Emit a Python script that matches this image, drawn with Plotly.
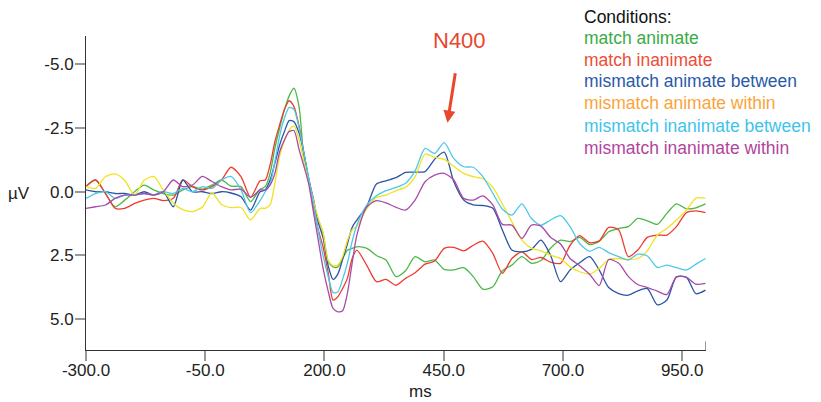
import plotly.graph_objects as go

# time points (ms)
time_ms = [-300, -280, -259, -239, -219, -198, -178, -158, -138, -117, -97, -77, -56, -36, -16, 4,
           25, 45, 65, 76, 86, 96, 106, 116, 126, 136, 147, 157, 167, 177, 187, 197, 208, 218,
           228, 238, 248, 258, 268, 289, 309, 329, 350, 370, 390, 411, 431, 451, 471, 492, 512,
           532, 553, 573, 593, 614, 634, 654, 674, 695, 715, 735, 756, 776, 796, 817, 837, 857,
           877, 898, 918, 938, 959, 979, 999]

match_animate = [-0.22, -0.46, 0.07, 0.59, 0.33, 0.0, -0.26, -0.07, 0.07, 0.13, -0.07, -0.2, -0.1, -0.26, -0.46, -0.22,
                 -0.2, 0.39, -0.1, -0.2, -0.72, -1.7, -2.49, -3.2, -3.76, -4.06, -3.3, -1.3, -0.5, 0.46, 1.1, 1.63, 2.75, 2.95,
                 2.95, 2.62, 2.3, 2.22, 2.16, 2.22, 2.5, 2.68, 3.33, 3.1, 2.55, 2.75, 2.68, 3.05, 3.07, 2.98, 3.33,
                 3.82, 3.73, 3.1, 2.88, 2.55, 2.81, 2.7, 2.22, 1.9, 1.96, 1.79, 2.07, 1.95, 1.57, 1.44, 1.37, 1.05,
                 1.14, 1.28, 0.85, 0.48, 0.67, 0.63, 0.48]

match_inanimate = [-0.2, -0.46, 0.07, 0.65, 0.65, 0.46, 0.33, 0.26, 0.35, 0.26, -0.46, -0.2, -0.07, -0.2, -0.46, -0.96,
                   -0.59, 0.22, -0.43, -0.46, -1.05, -1.96, -2.62, -3.23, -3.57, -3.34, -2.55, -1.5, -0.4, 0.59, 1.5, 2.16, 3.2, 4.25,
                   4.12, 3.8, 3.4, 2.62, 2.29, 2.9, 3.53, 3.44, 3.67, 3.4, 3.18, 2.84, 2.72, 2.22, 2.18, 2.32, 2.1,
                   1.94, 2.42, 3.2, 2.62, 2.36, 2.66, 2.58, 2.76, 2.81, 2.1, 1.72, 2.0, 1.93, 1.4, 1.5, 2.55, 2.29,
                   1.79, 1.7, 1.7, 1.37, 0.82, 0.75, 0.82]

mismatch_animate_between = [-0.07, 0.0, 0.0, 0.07, 0.07, 0.13, 0.0, 0.13, 0.0, 0.59, -0.46, 0.0, 0.0, 0.07, 0.0, 0.05,
                            0.2, 0.72, 0.0, -0.07, -0.46, -1.11, -1.83, -2.36, -2.79, -2.75, -2.29, -1.5, -0.5, 0.3, 1.2, 1.8, 2.92, 3.44,
                            3.23, 2.66, 2.05, 1.4, 1.11, 0.56, -0.3, -0.43, -0.55, -0.76, -0.77, -0.79, -1.27, -1.55, -0.4, 0.33, 0.52,
                            0.54, 0.65, 1.5, 2.29, 2.36, 2.26, 1.9, 2.49, 3.53, 3.07, 2.79, 2.55, 3.07, 3.76, 4.0, 4.06, 3.89,
                            3.8, 4.44, 4.25, 3.34, 3.36, 4.0, 3.86]

mismatch_animate_within = [-0.2, -0.13, -0.6, -0.7, -0.45, 0.13, -0.45, -0.6, -0.07, 0.45, 0.7, 0.78, 0.6, 0.04, 0.5, 0.62,
                           0.62, 1.11, 0.65, 0.65, 0.52, -0.33, -1.4, -2.0, -2.42, -2.58, -2.03, -1.2, -0.4, 0.35, 1.05, 1.6, 2.71, 2.9,
                           2.88, 2.55, 1.92, 1.5, 1.35, 0.65, 0.22, 0.13, -0.04, -0.17, -0.59, -1.48, -1.35, -1.27, -1.0, -0.72, -0.59,
                           -0.51, -0.17, 0.48, 1.18, 1.9, 2.22, 2.32, 2.49, 2.62, 2.95, 3.14, 3.23, 3.01, 2.66, 2.62, 2.66, 2.62,
                           2.32, 1.7, 1.44, 1.11, 0.72, 0.25, 0.25]

mismatch_inanimate_between = [0.26, 0.07, 0.0, 0.26, 0.13, 0.13, 0.07, 0.13, 0.0, 0.07, -0.13, 0.0, -0.2, -0.13, -0.46, -0.6,
                              -0.07, 0.82, 0.35, 0.0, -0.3, -1.18, -2.19, -2.88, -3.31, -3.23, -2.49, -1.5, -0.55, 0.5, 1.55, 2.5, 3.34, 3.96,
                              3.93, 3.44, 2.81, 1.96, 1.31, 0.52, 0.16, -0.04, -0.17, -0.33, -0.82, -1.7, -1.5, -1.93, -1.31, -0.98, -0.96,
                              -0.59, 0.06, 0.68, 0.92, 0.48, 1.05, 1.31, 1.11, 0.94, 1.37, 2.03, 2.34, 2.18, 2.39, 2.55, 2.68, 2.45,
                              2.52, 2.97, 2.88, 2.98, 3.07, 2.84, 2.62]

mismatch_inanimate_within = [0.65, 0.59, 0.52, 0.26, 0.13, 0.13, 0.07, 0.13, 0.0, -0.46, -0.2, -0.26, -0.6, -0.4, -0.2, -0.07,
                             -0.1, 0.22, -0.07, -0.07, -0.26, -0.72, -1.57, -2.03, -2.36, -2.4, -1.64, -1.0, -0.3, 0.8, 1.9, 3.0, 3.92, 4.58,
                             4.71, 4.67, 3.99, 2.81, 1.7, 0.59, 0.35, 0.44, 0.61, 0.72, 0.33, -0.39, -0.65, -0.72, -0.46, 0.26, 0.33,
                             0.16, 0.52, 1.28, 1.31, 1.83, 1.31, 1.35, 1.79, 2.05, 2.62, 2.9, 3.24, 3.68, 2.66, 2.81, 3.32, 3.64,
                             3.76, 3.9, 4.03, 3.34, 3.36, 3.63, 3.6]

series_names = ["match animate", "match inanimate", "mismatch animate between",
                "mismatch animate within", "mismatch inanimate between", "mismatch inanimate within"]
series_values = [match_animate, match_inanimate, mismatch_animate_between,
                 mismatch_animate_within, mismatch_inanimate_between, mismatch_inanimate_within]
line_colors = ["#4cb847", "#ee3b2f", "#2a55a5", "#efe31f", "#4dc8e8", "#a84aa8"]
label_colors = ["#3aaa47", "#ef4b36", "#2a5aa7", "#f9a53b", "#41c3ec", "#b1459c"]

x_ticks = [-300, -50, 200, 450, 700, 950]
x_tick_labels = ["-300.0", "-50.0", "200.0", "450.0", "700.0", "950.0"]
y_ticks = [-5, -2.5, 0, 2.5, 5]
y_tick_labels = ["-5.0", "-2.5", "0.0", "2.5", "5.0"]

FONT = "Liberation Sans, Arial, sans-serif"

fig = go.Figure()
for name, vals, col in zip(series_names, series_values, line_colors):
    fig.add_trace(go.Scatter(x=time_ms, y=vals, mode="lines", name=name,
                             line=dict(color=col, width=1.3, shape="spline", smoothing=0.7),
                             showlegend=False))

# the page body has an 8px margin: the figure starts at (8, 8) and ends at (821, 402)
fig.update_layout(
    width=813, height=394,
    margin=dict(l=78, r=115, t=28, b=52),
    paper_bgcolor="white", plot_bgcolor="white",
    font=dict(family=FONT, size=17, color="#222"),
)
fig.update_xaxes(range=[-300, 1000], tickvals=x_ticks, ticktext=x_tick_labels,
                 showline=True, linecolor="#333", linewidth=1,
                 ticks="outside", ticklen=10, tickcolor="#999", tickwidth=1.5,
                 ticklabelstandoff=-5,
                 showgrid=False, zeroline=False, tickfont=dict(size=17, color="#222"))
fig.update_yaxes(range=[6.21, -6.11], tickvals=y_ticks, ticktext=y_tick_labels,
                 showline=True, linecolor="#333", linewidth=1,
                 ticks="outside", ticklen=10, tickcolor="#999", tickwidth=1.5,
                 ticklabelstandoff=-2,
                 showgrid=False, zeroline=False, tickfont=dict(size=17, color="#222"))

# small end marker at the right end of the x axis
fig.add_shape(type="line", xref="x", yref="paper", x0=1000, x1=1000, y0=0, y1=0.028,
              line=dict(color="#333", width=1))

# axis titles
fig.add_annotation(text="µV", xref="paper", yref="paper", x=-0.108, y=0.5, showarrow=False,
                   font=dict(size=17, color="#222"), xanchor="center", yanchor="middle")
fig.add_annotation(text="ms", xref="paper", yref="paper", x=0.539, y=-0.131, showarrow=False,
                   font=dict(size=17, color="#222"), xanchor="center", yanchor="middle")

# legend as coloured text
legend_y = [1.06, 0.994, 0.923, 0.856, 0.786, 0.713, 0.643]
fig.add_annotation(text="Conditions:", xref="paper", yref="paper", x=0.8, y=legend_y[0],
                   showarrow=False, xanchor="left", yanchor="middle",
                   font=dict(size=17.5, color="#111"))
for name, col, yy in zip(series_names, label_colors, legend_y[1:]):
    fig.add_annotation(text=name, xref="paper", yref="paper", x=0.8, y=yy,
                       showarrow=False, xanchor="left", yanchor="middle",
                       font=dict(size=17.5, color=col))

# N400 label and arrow
fig.add_annotation(text="N400", xref="paper", yref="paper", x=0.603, y=0.987, showarrow=False,
                   xanchor="center", yanchor="middle", font=dict(size=22, color="#e8472e"))
fig.add_annotation(text="", x=458, y=-2.71, xref="x", yref="y", ax=8, ay=-51,
                   showarrow=True, arrowhead=2, arrowsize=0.8, arrowwidth=3, arrowcolor="#e8472e")

fig.write_html("out.html")
